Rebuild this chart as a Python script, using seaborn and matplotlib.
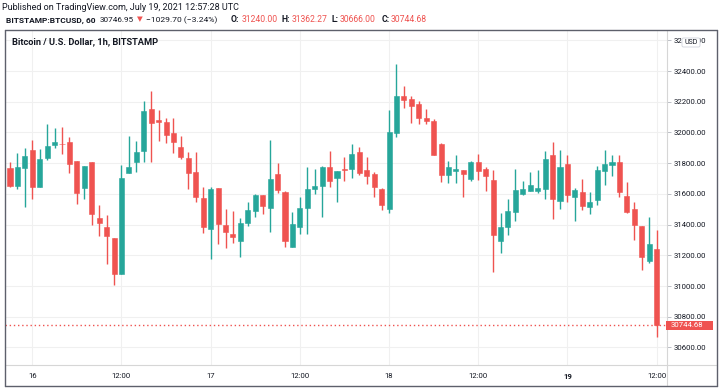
import matplotlib
matplotlib.use("Agg")
import numpy as np
import pandas as pd
import matplotlib.pyplot as plt
import seaborn as sns
from matplotlib.lines import Line2D
from matplotlib.patches import Rectangle, FancyBboxPatch

sns.set_theme(style="white")
plt.rcParams['font.family'] = ['Roboto', 'DejaVu Sans']

# hourly BTCUSD candles, 15 Jul 21:00 -> 19 Jul 12:00 (UTC)
times = pd.date_range("2021-07-15 21:00", periods=88, freq="h")
opens = [31766, 31653, 31770, 31886, 31647, 31836, 31920, 31927, 31940, 31812,
         31640, 31807, 31443, 31384, 31315, 31076, 31734, 31807, 31877, 32150,
         32079, 32068, 31994, 31905, 31833, 31742, 31573, 31373, 31638, 31399,
         31336, 31295, 31412, 31490, 31592, 31510, 31727, 31610, 31256, 31386,
         31510, 31631, 31649, 31773, 31705, 31764, 31764, 31872, 31755, 31727,
         31634, 31504, 31998, 32239, 32218, 32187, 32092, 32074, 31922, 31725,
         31747, 31753, 31697, 31805, 31760, 31688, 31296, 31387, 31484, 31599,
         31621, 31621, 31632, 31853, 31552, 31797, 31582, 31610, 31517, 31563,
         31747, 31790, 31808, 31586, 31500, 31391, 31165, 31240.00]
highs = [31810, 31868, 31896, 31951, 31892, 32055, 32029, 32037, 31970, 31812,
         31779, 31807, 31527, 31462, 31315, 31788, 31977, 31942, 32204, 32270,
         32146, 32092, 32096, 31976, 31874, 31874, 31644, 31642, 31640, 31499,
         31486, 31443, 31547, 31601, 31595, 31950, 31798, 31618, 31484, 31579,
         31777, 31759, 31781, 31879, 31751, 31838, 31924, 31905, 31838, 31740,
         31640, 32146, 32445, 32302, 32237, 32207, 32152, 32087, 31929, 31814,
         31853, 31755, 31814, 31862, 31773, 31753, 31474, 31565, 31760, 31684,
         31740, 31756, 31877, 31938, 31886, 31853, 31636, 31699, 31615, 31782,
         31886, 31853, 31853, 31680, 31549, 31391, 31447, 31362.27]
lows = [31642, 31632, 31517, 31564, 31647, 31820, 31901, 31859, 31738, 31536,
        31569, 31399, 31328, 31143, 31007, 31076, 31734, 31744, 31810, 31810,
        31946, 31929, 31864, 31825, 31634, 31547, 31347, 31174, 31276, 31249,
        31282, 31191, 31391, 31451, 31466, 31354, 31608, 31256, 31256, 31336,
        31336, 31599, 31451, 31647, 31547, 31686, 31705, 31723, 31666, 31582,
        31495, 31478, 31972, 32161, 32063, 32057, 32057, 31850, 31679, 31671,
        31671, 31582, 31684, 31692, 31621, 31094, 31217, 31335, 31426, 31591,
        31621, 31604, 31567, 31439, 31504, 31549, 31426, 31493, 31469, 31530,
        31660, 31717, 31582, 31478, 31300, 31105, 31152, 30666.00]
closes = [31651, 31773, 31846, 31647, 31825, 31911, 31938, 31922, 31797, 31608,
          31779, 31469, 31412, 31323, 31080, 31705, 31775, 31872, 32137, 32059,
          32070, 31985, 31940, 31842, 31736, 31582, 31386, 31631, 31401, 31352,
          31319, 31408, 31495, 31592, 31519, 31697, 31627, 31291, 31401, 31508,
          31634, 31651, 31773, 31686, 31751, 31757, 31859, 31733, 31716, 31645,
          31530, 32003, 32235, 32213, 32172, 32096, 32074, 31855, 31725, 31777,
          31760, 31729, 31807, 31751, 31718, 31332, 31382, 31487, 31623, 31630,
          31656, 31636, 31825, 31567, 31777, 31595, 31628, 31519, 31545, 31756,
          31795, 31808, 31615, 31480, 31400, 31191, 31274, 30744.68]

price_ticks = [30600, 30800, 31000, 31200, 31400, 31600, 31800, 32000, 32200, 32400, 32600]
time_ticks = ["2021-07-16 00:00", "2021-07-16 12:00", "2021-07-17 00:00", "2021-07-17 12:00",
              "2021-07-18 00:00", "2021-07-18 12:00", "2021-07-19 00:00", "2021-07-19 12:00"]
time_labels = ["16", "12:00", "17", "12:00", "18", "12:00", "19", "12:00"]

GREEN = "#26a69a"
RED = "#ef5350"
TXT = "#131722"

t0 = pd.Timestamp("2021-07-16")
df = pd.DataFrame({"hour": (times - t0) / pd.Timedelta(hours=1),
                   "open": opens, "high": highs, "low": lows, "close": closes})
df["color"] = np.where(df.close >= df.open, GREEN, RED)
tick_hours = [(pd.Timestamp(t) - t0) / pd.Timedelta(hours=1) for t in time_ticks]

W, H = 720, 388
fig = plt.figure(figsize=(7.2, 3.88), dpi=100)
ax = fig.add_axes([5 / W, 1 - 365 / H, 662 / W, 335 / H])

ax.vlines(df.hour, df.low, df.high, colors=df.color, lw=1)
ax.bar(df.hour, (df.close - df.open).abs(), bottom=df[["open", "close"]].min(axis=1),
       width=0.68, color=df.color, edgecolor=df.color, lw=0.4)
ax.axhline(closes[-1], color=RED, lw=1, ls=(0, (1, 2)))

ax.set_xlim(-3.67, 85.4)
ax.set_ylim(30486, 32667)
ax.set_yticks(price_ticks)
ax.set_yticklabels([f"{v:.2f}" for v in price_ticks])
ax.yaxis.tick_right()
ax.set_xticks(tick_hours)
ax.set_xticklabels(time_labels)
for lab in ax.get_xticklabels():
    if lab.get_text() == "19":
        lab.set_fontweight("bold")
ax.tick_params(axis="both", labelsize=5.6, colors="#b2b5be", labelcolor=TXT,
               length=3, width=0.6, direction="out")
ax.tick_params(axis="y", pad=1.5)
ax.tick_params(axis="x", pad=3)
ax.grid(True, color="#f0f0f0", lw=0.8)
ax.set_axisbelow(True)
for s in ax.spines.values():
    s.set_visible(False)

ax.text(7 / 662, 1 - 12 / 335, "Bitcoin / U.S. Dollar, 1h, BITSTAMP", transform=ax.transAxes,
        fontsize=6.7, fontweight="bold", color=TXT, va="center", ha="left")


def px(x, y):
    return x / W, 1 - y / H


def fline(x1, y1, x2, y2, color, lw=1.0):
    fig.add_artist(Line2D([x1 / W, x2 / W], [1 - y1 / H, 1 - y2 / H],
                          transform=fig.transFigure, color=color, lw=lw))


# frame and axis separators
fline(5, 365, 716, 365, "#d6d6d6", 0.8)
fline(667, 30, 667, 385, "#d6d6d6", 0.8)
fline(4.5, 30, 716.5, 30, "#5d606b", 1.0)
fline(4.5, 30, 4.5, 385.5, "#5d606b", 1.0)
fline(716.5, 30, 716.5, 385.5, "#5d606b", 1.0)
fline(4.5, 385.5, 716.5, 385.5, "#5d606b", 1.0)

# header
fig.text(*px(2, 7), "Published on TradingView.com, July 19, 2021 12:57:28 UTC",
         fontsize=6.5, color=TXT, va="center", ha="left")
segs = [(6, "BITSTAMP:BTCUSD, 60", TXT, "bold", 6.0), (100, "30746.95", TXT, "normal", 5.9),
        (137, "▼", RED, "normal", 5.4), (146, "−1029.70 (−3.24%)", TXT, "normal", 6.1),
        (231, "O:", TXT, "bold", 6.2), (242, "31240.00", RED, "normal", 6.2),
        (282, "H:", TXT, "bold", 6.2), (292, "31362.27", RED, "normal", 6.2),
        (332, "L:", TXT, "bold", 6.2), (340, "30666.00", RED, "normal", 6.2),
        (382, "C:", TXT, "bold", 6.2), (391, "30744.68", RED, "normal", 6.2)]
for x, s, c, w, fs in segs:
    fig.text(*px(x, 20), s, fontsize=fs, color=c, fontweight=w, va="center", ha="left")

# last price label
fig.canvas.draw()
ylab = ax.transData.transform((0, closes[-1]))[1]
fig.add_artist(Rectangle((666 / W, (ylab - 4.3) / H), 47 / W, 8.6 / H,
                         transform=fig.transFigure, facecolor=RED, edgecolor="none", zorder=10))
fig.text(671 / W, ylab / H, f"{closes[-1]:.2f}", fontsize=5.6, color="white",
         va="center", ha="left", zorder=11)

# USD badge (covers the middle of the top price label, as in the source)
fig.add_artist(FancyBboxPatch((682, H - 47), 18, 9, boxstyle="round,pad=0,rounding_size=1.5",
                              transform=None, facecolor="white", edgecolor="#d1d4dc",
                              lw=0.6, zorder=10))
fig.text(*px(691, 42.5), "USD", fontsize=5, color=TXT, va="center", ha="center", zorder=11)

fig.savefig("out.png", dpi=100)
